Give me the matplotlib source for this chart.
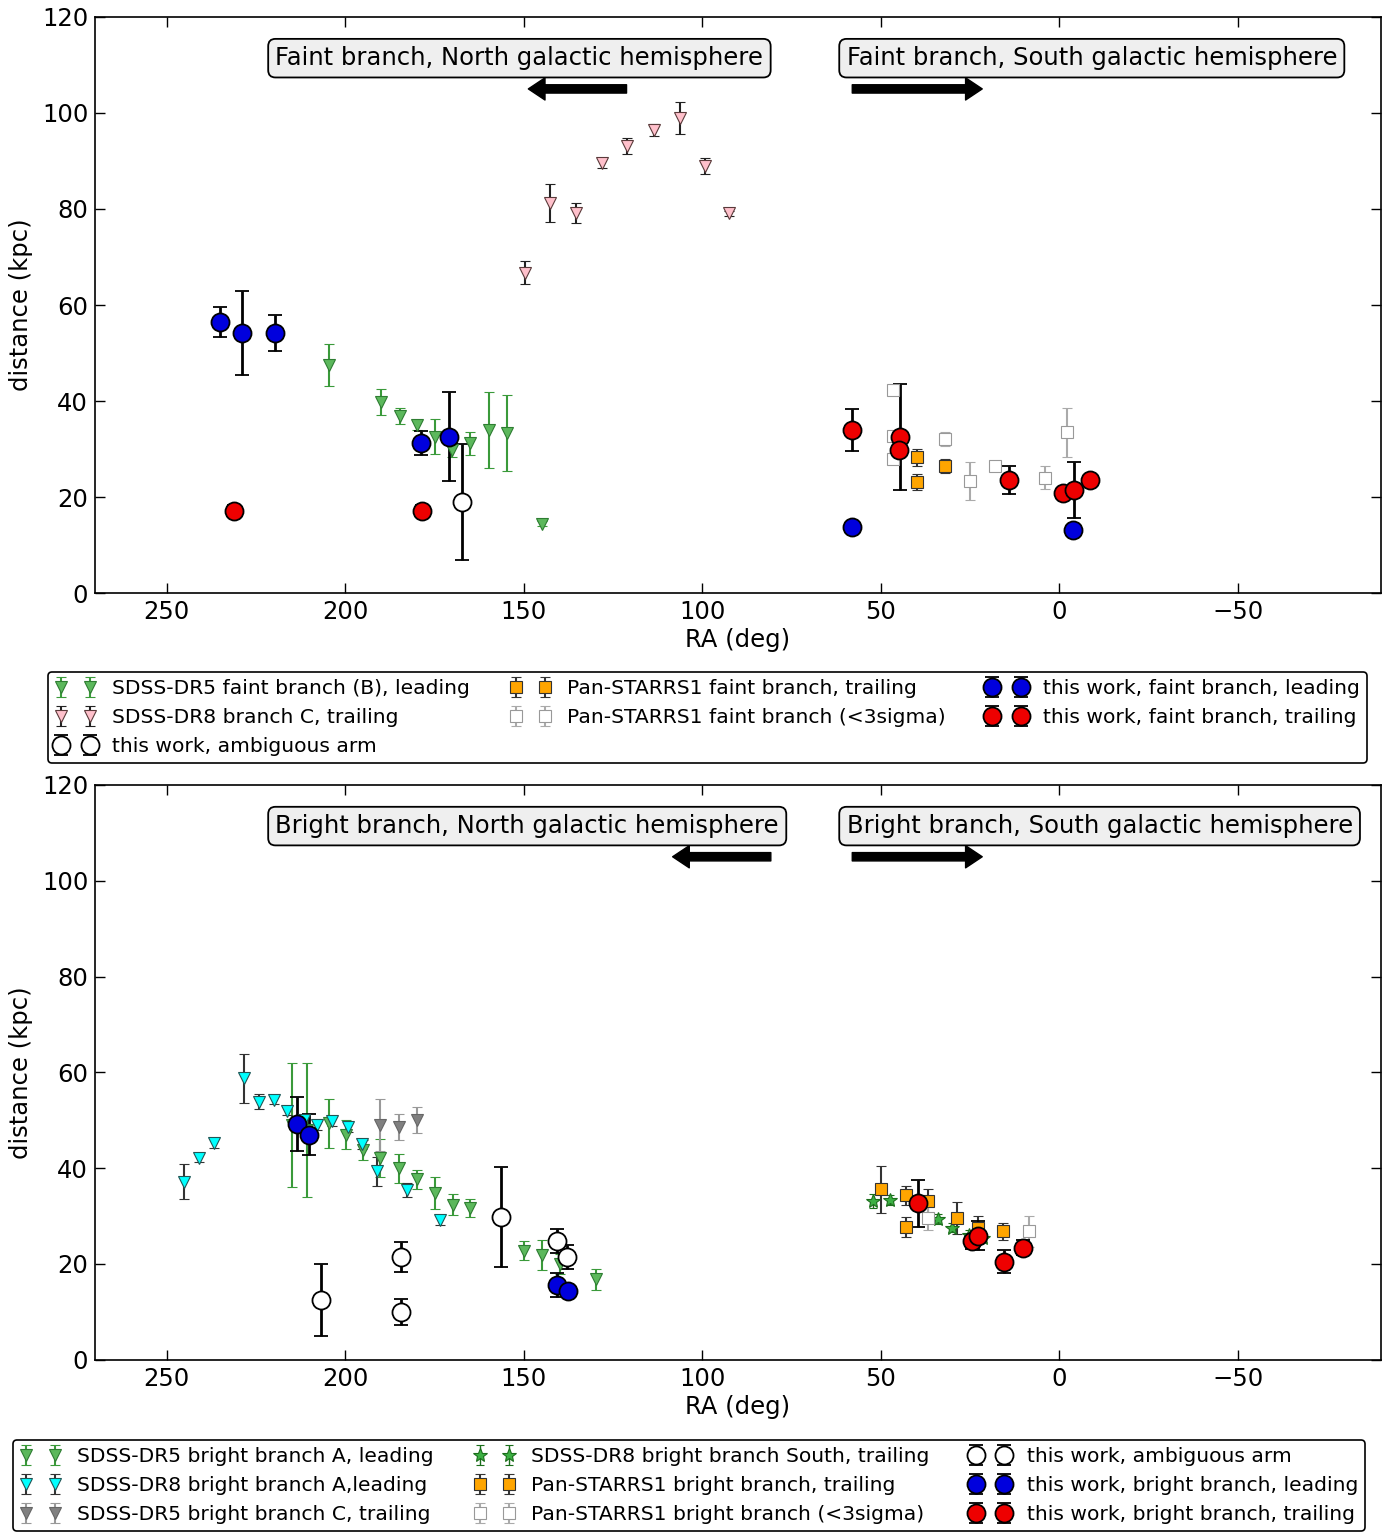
import matplotlib
matplotlib.use("Agg")
import matplotlib.pyplot as plt
import numpy as np

# ---------------- top panel: faint branch ----------------
# SDSS-DR5 faint branch (B), leading
dr5b_ra = [204.6, 189.9, 184.7, 179.8, 174.9, 170.0, 164.9, 159.6, 154.6, 144.8]
dr5b_d = [47.5, 39.9, 36.9, 35.0, 32.6, 29.8, 31.2, 34.0, 33.3, 14.5]
dr5b_e = [4.3, 2.7, 1.7, 1.0, 3.6, 1.5, 2.4, 7.9, 7.9, 0.5]

# SDSS-DR8 branch C, trailing
dr8c_ra = [149.5, 142.5, 135.3, 128.0, 121.0, 113.6, 106.1, 99.1, 92.6]
dr8c_d = [66.7, 81.2, 79.2, 89.6, 93.1, 96.5, 98.9, 89.0, 79.1]
dr8c_e = [2.4, 4.0, 2.1, 1.0, 1.6, 1.2, 3.3, 1.7, 0.5]

# Pan-STARRS1 faint branch, trailing
psf_ra = [39.8, 39.8, 32.1]
psf_d = [28.3, 23.1, 26.5]
psf_e = [1.8, 1.7, 1.5]

# Pan-STARRS1 faint branch (<3sigma)
psf3_ra = [46.7, 46.7, 46.7, 32.1, 24.9, 17.9, 3.9, -2.2]
psf3_d = [42.4, 32.7, 27.9, 32.1, 23.4, 26.5, 24.1, 33.5]
psf3_e = [1.0, 0.8, 0.8, 1.5, 3.9, 0.8, 2.4, 5.1]

# this work, faint
amb_f_ra = [167.2]
amb_f_d = [19.0]
amb_f_e = [12.0]

lead_f_ra = [234.9, 229.0, 219.5, 178.7, 171.0, 58.2, -3.9]
lead_f_d = [56.5, 54.2, 54.2, 31.2, 32.6, 13.7, 13.1]
lead_f_e = [3.2, 8.8, 3.8, 2.5, 9.2, 0.0, 0.0]

trail_f_ra = [231.2, 178.6, 58.2, 44.5, 44.8, 14.0, -1.1, -4.2, -8.7]
trail_f_d = [17.1, 17.1, 34.0, 32.6, 29.8, 23.6, 20.8, 21.5, 23.5]
trail_f_e = [1.3, 1.3, 4.3, 11.0, 0.0, 2.9, 0.0, 5.8, 0.0]

# ---------------- bottom panel: bright branch ----------------
# SDSS-DR5 bright branch A, leading
dr5a_ra = [214.8, 210.6, 204.5, 199.7, 195.0, 190.1, 184.8, 179.8, 174.7, 169.8,
           164.9, 149.8, 144.8, 139.9, 129.7]
dr5a_d = [49.0, 48.0, 49.4, 47.0, 43.8, 42.1, 40.0, 37.7, 34.8, 32.4,
          31.7, 22.8, 21.9, 20.0, 16.8]
dr5a_e = [13.0, 14.0, 5.1, 3.0, 2.0, 4.0, 3.0, 2.0, 3.4, 2.2,
          1.8, 2.0, 3.1, 2.0, 2.2]

# SDSS-DR8 bright branch A, leading
dr8a_ra = [245.2, 241.0, 236.8, 228.2, 224.2, 220.0, 216.2, 211.6, 207.8, 203.6,
           199.2, 195.2, 191.0, 182.6, 173.3]
dr8a_d = [37.2, 42.2, 45.2, 58.8, 53.9, 54.3, 52.0, 50.0, 49.0, 49.9,
          48.6, 45.0, 39.3, 35.5, 29.2]
dr8a_e = [3.7, 1.0, 1.0, 5.1, 1.5, 1.0, 1.0, 1.0, 1.0, 1.0,
          1.0, 1.0, 3.0, 1.5, 1.0]

# SDSS-DR5 bright branch C, trailing
dr5c_ra = [190.1, 184.8, 179.8]
dr5c_d = [49.0, 48.6, 50.1]
dr5c_e = [5.5, 2.7, 2.7]

# SDSS-DR8 bright branch South, trailing
dr8s_ra = [52.2, 47.3, 34.1, 30.1, 25.4, 21.3]
dr8s_d = [33.2, 33.4, 29.4, 27.6, 26.1, 25.5]
dr8s_e = [1.5, 1.0, 1.0, 1.0, 1.0, 1.0]

# Pan-STARRS1 bright branch, trailing
psb_ra = [49.9, 42.9, 42.9, 36.8, 28.8, 22.9, 15.8]
psb_d = [35.6, 34.3, 27.7, 33.2, 29.6, 27.5, 26.8]
psb_e = [4.9, 2.0, 2.0, 2.5, 3.4, 2.5, 1.8]

# Pan-STARRS1 bright branch (<3sigma)
psb3_ra = [36.8, 8.6]
psb3_d = [29.6, 26.8]
psb3_e = [2.5, 3.2]

# this work, bright
amb_b_ra = [206.7, 184.3, 184.3, 156.3, 140.6, 137.8]
amb_b_d = [12.5, 21.4, 10.0, 29.8, 24.8, 21.4]
amb_b_e = [7.5, 3.1, 2.75, 10.4, 2.5, 2.5]

lead_b_ra = [213.4, 210.0, 140.6, 137.7]
lead_b_d = [49.2, 47.0, 15.7, 14.3]
lead_b_e = [5.6, 4.3, 2.5, 1.0]

trail_b_ra = [39.6, 24.5, 22.8, 15.4, 10.2]
trail_b_d = [32.7, 24.7, 25.9, 20.5, 23.4]
trail_b_e = [4.9, 1.5, 3.0, 2.4, 1.5]

plt.rcParams['font.family'] = ['DejaVu Sans']

fig = plt.figure(figsize=(13.99, 15.33), dpi=100)
ax1 = fig.add_axes([0.068, 0.613, 0.919, 0.376])
ax2 = fig.add_axes([0.068, 0.113, 0.919, 0.375])

tri = dict(fmt='v', ms=8.5, capsize=3.5, elinewidth=1.5, capthick=1.5, mew=0.8)
sq = dict(fmt='s', ms=8, capsize=3.5, elinewidth=1.5, capthick=1.5, mew=0.8)
circ = dict(fmt='o', ms=13, capsize=5, elinewidth=2, capthick=2, mew=1.3,
            ecolor='k', mec='k')

green_f = '#5cb85c'

# top panel
ax1.errorbar(dr5b_ra, dr5b_d, yerr=dr5b_e, mfc=green_f, mec='#2e7d32', ecolor='#3a9a3a',
             label='SDSS-DR5 faint branch (B), leading', **tri)
ax1.errorbar(dr8c_ra, dr8c_d, yerr=dr8c_e, mfc='pink', mec='#5a3a3a', ecolor='#222222',
             label='SDSS-DR8 branch C, trailing', **tri)
ax1.errorbar(amb_f_ra, amb_f_d, yerr=amb_f_e, mfc='white',
             label='this work, ambiguous arm', **circ)
ax1.errorbar(psf_ra, psf_d, yerr=psf_e, mfc='orange', mec='#333333', ecolor='#333333',
             label='Pan-STARRS1 faint branch, trailing', **sq)
ax1.errorbar(psf3_ra, psf3_d, yerr=psf3_e, mfc='white', mec='#999999', ecolor='#aaaaaa',
             label='Pan-STARRS1 faint branch (<3sigma)', **sq)
ax1.errorbar(lead_f_ra, lead_f_d, yerr=lead_f_e, mfc='#0000dd',
             label='this work, faint branch, leading', **circ)
ax1.errorbar(trail_f_ra, trail_f_d, yerr=trail_f_e, mfc='#ee0000',
             label='this work, faint branch, trailing', **circ)

# bottom panel
ax2.errorbar(dr5a_ra, dr5a_d, yerr=dr5a_e, mfc=green_f, mec='#2e7d32', ecolor='#3a9a3a',
             label='SDSS-DR5 bright branch A, leading', **tri)
ax2.errorbar(dr8a_ra, dr8a_d, yerr=dr8a_e, mfc='cyan', mec='#225555', ecolor='#333333',
             label='SDSS-DR8 bright branch A,leading', **tri)
ax2.errorbar(dr5c_ra, dr5c_d, yerr=dr5c_e, mfc='gray', mec='#666666', ecolor='#999999',
             label='SDSS-DR5 bright branch C, trailing', **tri)
ax2.errorbar(dr8s_ra, dr8s_d, yerr=dr8s_e, fmt='*', ms=10, mfc='#3cb043', mec='#1b6e1b',
             ecolor='#1b6e1b', capsize=3, elinewidth=1.0, capthick=1.0, mew=0.8,
             label='SDSS-DR8 bright branch South, trailing')
ax2.errorbar(psb_ra, psb_d, yerr=psb_e, mfc='orange', mec='#333333', ecolor='#333333',
             label='Pan-STARRS1 bright branch, trailing', **sq)
ax2.errorbar(psb3_ra, psb3_d, yerr=psb3_e, mfc='white', mec='#999999', ecolor='#aaaaaa',
             label='Pan-STARRS1 bright branch (<3sigma)', **sq)
ax2.errorbar(amb_b_ra, amb_b_d, yerr=amb_b_e, mfc='white',
             label='this work, ambiguous arm', **circ)
ax2.errorbar(lead_b_ra, lead_b_d, yerr=lead_b_e, mfc='#0000dd',
             label='this work, bright branch, leading', **circ)
ax2.errorbar(trail_b_ra, trail_b_d, yerr=trail_b_e, mfc='#ee0000',
             label='this work, bright branch, trailing', **circ)

boxprops = dict(boxstyle='round,pad=0.3', fc='#efefef', ec='k', lw=1.3)
arrow = dict(facecolor='black', edgecolor='black', width=6, headwidth=16, headlength=12)

for ax, word, tip_n in [(ax1, 'Faint', 148.7), (ax2, 'Bright', 108.3)]:
    ax.set_xlim(270, -90)
    ax.set_ylim(0, 120)
    ax.set_xticks([250, 200, 150, 100, 50, 0, -50])
    ax.set_yticks([0, 20, 40, 60, 80, 100, 120])
    ax.tick_params(direction='in', top=True, right=True, labelsize=17.5,
                   length=7, width=1, pad=5)
    for s in ax.spines.values():
        s.set_linewidth(1.2)
    ax.set_xlabel('RA (deg)', fontsize=17.5, labelpad=3)
    ax.set_ylabel('distance (kpc)', fontsize=17.5, labelpad=6)
    ax.text(219.5, 111.4, word + ' branch, North galactic hemisphere', fontsize=17.5,
            ha='left', va='center', bbox=boxprops)
    ax.text(59.6, 111.4, word + ' branch, South galactic hemisphere', fontsize=17.5,
            ha='left', va='center', bbox=boxprops)
    tail_n = tip_n - 27.5
    ax.annotate('', xy=(tip_n, 105), xytext=(tail_n, 105), arrowprops=arrow)
    ax.annotate('', xy=(21.6, 105), xytext=(58.0, 105), arrowprops=arrow)

leg_kw = dict(ncol=3, numpoints=2, fontsize=14.6, frameon=True, fancybox=True,
              framealpha=1, edgecolor='k', loc='upper left', borderaxespad=0,
              labelspacing=0.5, borderpad=0.35)
l1 = fig.legend(*ax1.get_legend_handles_labels(), bbox_to_anchor=(48 / 1399, 1 - 672 / 1533), **leg_kw)
l1.get_frame().set_linewidth(1.2)
l2 = fig.legend(*ax2.get_legend_handles_labels(), bbox_to_anchor=(13 / 1399, 1 - 1440 / 1533), **leg_kw)
l2.get_frame().set_linewidth(1.2)

fig.savefig('out.png', dpi=100)
